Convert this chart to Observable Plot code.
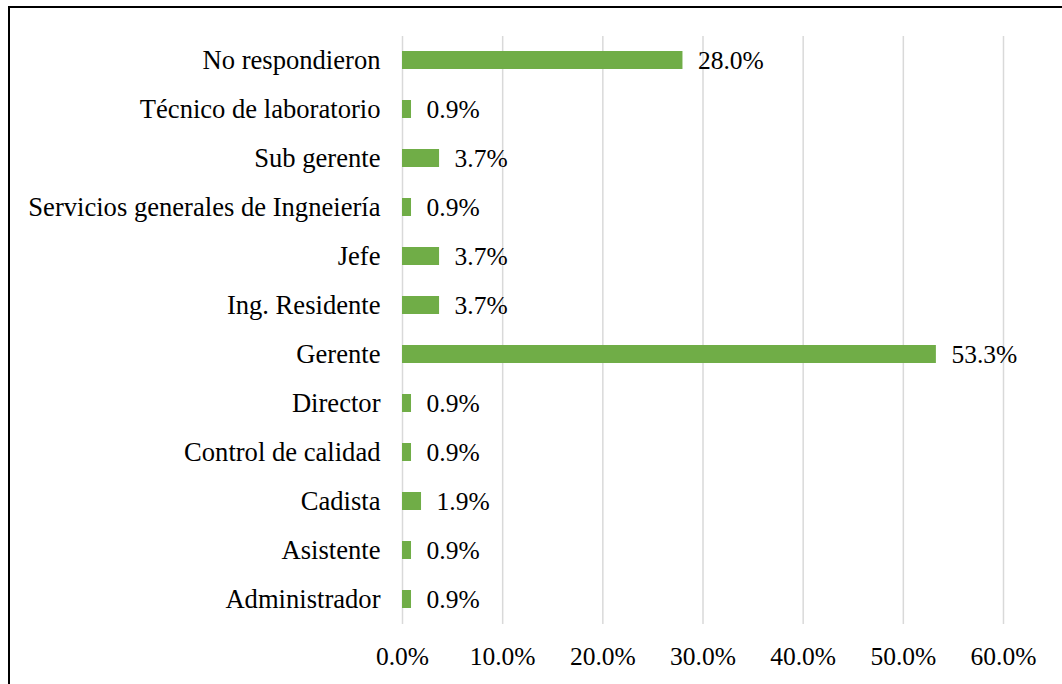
<!DOCTYPE html>
<html>
<head>
<meta charset="utf-8">
<script src="https://cdn.jsdelivr.net/npm/d3@7"></script>
<script src="https://cdn.jsdelivr.net/npm/@observablehq/plot@0.6"></script>
<style>
  html, body { margin: 0; padding: 0; background: #fff; }
  #wrap { position: relative; width: 1062px; height: 684px; overflow: hidden; }
  #frame { position: absolute; left: 8px; top: 6px; width: 1100px; height: 700px;
           border-left: 2px solid #000; border-top: 2px solid #000; box-sizing: border-box; }
  #chart { position: absolute; left: 0; top: 0; }
</style>
</head>
<body>
<div id="wrap"><div id="frame"></div><div id="chart"></div></div>
<script>
const categories = ["No respondieron", "Técnico de laboratorio", "Sub gerente", "Servicios generales de Ingneiería", "Jefe", "Ing. Residente", "Gerente", "Director", "Control de calidad", "Cadista", "Asistente", "Administrador"];
const values = [28.0, 0.9, 3.7, 0.9, 3.7, 3.7, 53.3, 0.9, 0.9, 1.9, 0.9, 0.9];
const xTicks = [0, 10, 20, 30, 40, 50, 60];

const data = categories.map((c, i) => ({category: c, value: values[i]}));
const font = "Liberation Serif, Times New Roman, Times, serif";

const chart = Plot.plot({
  width: 1062,
  height: 684,
  marginLeft: 402,
  marginRight: 59,
  marginTop: 36,
  marginBottom: 60,
  style: {fontFamily: font, fontSize: "25px", color: "#000", background: "transparent"},
  x: {domain: [0, 60], ticks: xTicks, label: null},
  y: {domain: categories, label: null, paddingInner: 0.63, paddingOuter: 0.315},
  marks: [
    Plot.gridX(xTicks, {stroke: "#d9d9d9", strokeOpacity: 1, strokeWidth: 1.5}),
    Plot.axisX(xTicks, {tickSize: 0, tickPadding: 22, tickFormat: d => d.toFixed(1) + "%", fontSize: 25.5, fontFamily: font, fill: "#000"}),
    Plot.axisY({tickSize: 0, tickPadding: 22, fontSize: 26.6, fontFamily: font, fill: "#000"}),
    Plot.barX(data, {x: "value", y: "category", fill: "#70AD47"}),
    Plot.text(data, {x: "value", y: "category", text: d => d.value.toFixed(1) + "%", textAnchor: "start", dx: 15, fontSize: 25.5, fontFamily: font, fill: "#000"})
  ]
});
document.getElementById("chart").appendChild(chart);
</script>
</body>
</html>
